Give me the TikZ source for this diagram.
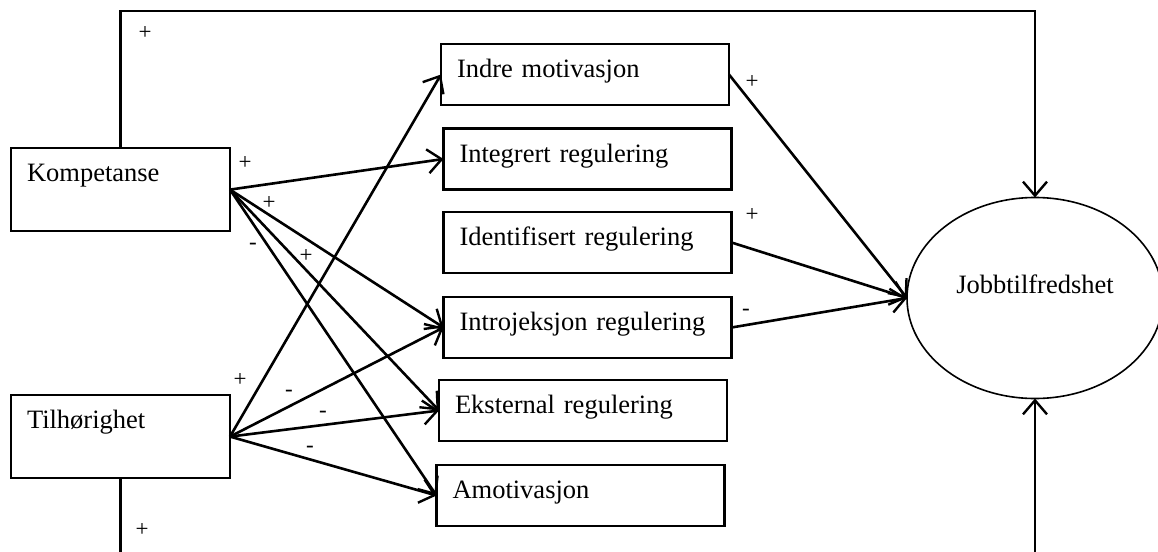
\documentclass[tikz,border=0pt]{standalone}
\usepackage{fontspec}
\setmainfont{Liberation Serif}
\usetikzlibrary{arrows.meta,shapes.geometric}
\newcommand{\boxfont}{\fontsize{13.25}{16}\selectfont}
\newcommand{\signfont}{\fontsize{11.5}{13}\selectfont}
\tikzset{
  box/.style={draw, line width=1.1pt, rectangle, anchor=north west, align=left,
    inner xsep=8pt, inner ysep=0pt, outer sep=0pt, text width=128pt,
    text height=16.8pt, text depth=13.7pt, font=\boxfont},
  bigbox/.style={box, text width=93.5pt, text height=16.8pt, text depth=24.8pt},
  arr/.style={line width=1.3pt, -{Straight Barb[length=7pt,width=12pt,line width=1.2pt]}},
  sign/.style={font=\signfont, inner sep=0pt},
}
\begin{document}
\begin{tikzpicture}[x=0.5pt,y=-0.5pt]
    \clip (0,0) rectangle (1158,552);
    % antecedents
    \node [bigbox] (komp) at (11,148) {Kompetanse};
    \node [bigbox] (tilh) at (11,395) {Tilhørighet};
    % motivation types
    \node [box] (indre) at (441,44) {Indre motivasjon};
    \node [box] (integ) at (443.5,128.5) {Integrert regulering};
    \node [box] (ident) at (443.5,212) {Identifisert regulering};
    \node [box] (intro) at (443.5,297) {Introjeksjon regulering};
    \node [box] (ekst) at (439,380) {Eksternal regulering};
    \node [box] (amot) at (436.5,465) {Amotivasjon};
    % outcome
    \node [ellipse, draw, line width=0.8pt, outer sep=0pt, minimum width=128pt, minimum height=100.5pt,
        text height=9pt, text depth=14pt, font=\boxfont] (jobb) at (1035,298) {Jobbtilfredshet};

    \draw [arr] (komp.north) -- ++(0,-137) -| (jobb.north);
    \draw [arr] (tilh.south) -- ++(0,90) -| (jobb.south);

    \draw [arr] (komp.east) -- (integ.west);
    \draw [arr] (komp.east) -- (intro.west);
    \draw [arr] (komp.east) -- (ekst.west);
    \draw [arr] (komp.east) -- (amot.west);

    \draw [arr] (tilh.east) -- (indre.west);
    \draw [arr] (tilh.east) -- (intro.west);
    \draw [arr] (tilh.east) -- (ekst.west);
    \draw [arr] (tilh.east) -- (amot.west);

    \draw [arr] (indre.east) -- (jobb.west);
    \draw [arr] (ident.east) -- (jobb.west);
    \draw [arr] (intro.east) -- (jobb.west);

    % signs
    \node [sign] (s1) at (145,33) {+};
    \node [sign] (s2) at (245,163) {+};
    \node [sign] (s3) at (269,203) {+};
    \node [sign] (s4) at (253,246) {-};
    \node [sign] (s5) at (306,256) {+};
    \node [sign] (s6) at (240,380) {+};
    \node [sign] (s7) at (289,393) {-};
    \node [sign] (s8) at (323,414) {-};
    \node [sign] (s9) at (310,449) {-};
    \node [sign] (s10) at (142,530) {+};
    \node [sign] (s11) at (752,82) {+};
    \node [sign] (s12) at (752,215) {+};
    \node [sign] (s13) at (746,312) {-};
\end{tikzpicture}
\end{document}
